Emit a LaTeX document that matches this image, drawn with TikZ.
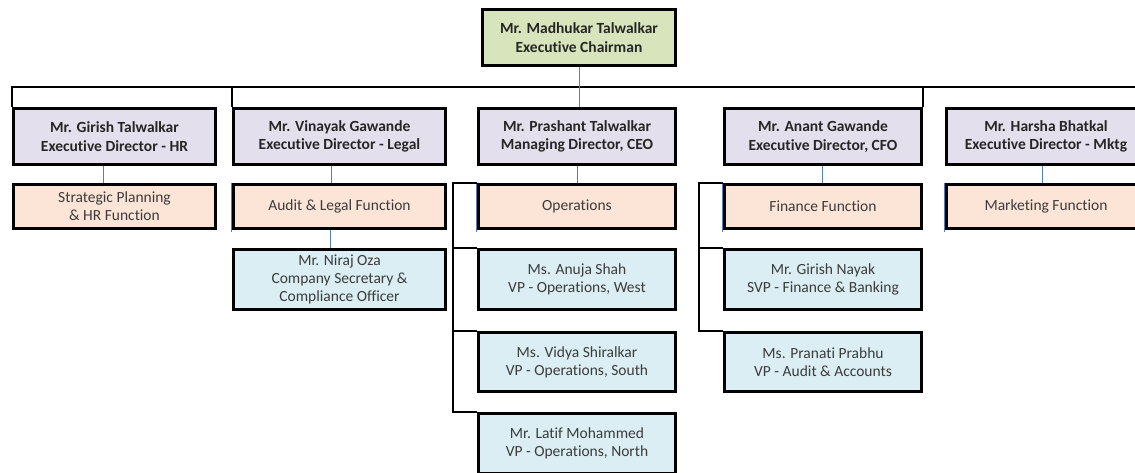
\documentclass[tikz,border=0pt]{standalone}
\usepackage{fontspec}
\setmainfont{Carlito}[Ligatures=NoCommon]
\usepackage{tikz}

\definecolor{chairgreen}{RGB}{216,228,188}
\definecolor{dirlilac}{RGB}{228,223,236}
\definecolor{fnpeach}{RGB}{252,228,214}
\definecolor{staffblue}{RGB}{218,238,243}
\definecolor{linkblue}{RGB}{79,129,189}
\definecolor{txtgray}{RGB}{60,60,60}

\begin{document}
\begin{tikzpicture}[x=1pt, y=-1pt,
		box/.style={draw=black, line width=3.6pt, align=center, inner sep=0pt, text=txtgray, font=\fontsize{15.5}{18}\selectfont},
		head/.style={box, text=black!85, font=\fontsize{15.5}{18.5}\selectfont\bfseries},
		chairbox/.style={head, fill=chairgreen},
		dirbox/.style={head, fill=dirlilac},
		fnbox/.style={box, fill=fnpeach},
		staffbox/.style={box, fill=staffblue},
		busline/.style={line width=1.8pt, black},
		elbow/.style={line width=1.8pt, black},
		link/.style={line width=0.9pt, linkblue}]
			\useasboundingbox (0,0) rectangle (1135,472);
			\clip (0,0) rectangle (1135,472);
			% Top
			\node[chairbox, minimum width=193, minimum height=56] (chair) at (579,37.5) {Mr. Madhukar Talwalkar\\Executive Chairman};
			% Directors
			\node[dirbox, minimum width=202, minimum height=56] (girish) at (114.5,136.5) {Mr. Girish Talwalkar\\Executive Director - HR};
			\node[dirbox, minimum width=212, minimum height=56] (vinayak) at (339.5,136.5) {Mr. Vinayak Gawande\\Executive Director - Legal};
			\node[dirbox, minimum width=197, minimum height=56] (prashant) at (577,136.5) {Mr. Prashant Talwalkar\\Managing Director, CEO};
			\node[dirbox, minimum width=197, minimum height=56] (anant) at (823,136.5) {Mr. Anant Gawande\\Executive Director, CFO};
			\node[dirbox, minimum width=199, minimum height=56] (harsha) at (1046,136.5) {Mr. Harsha Bhatkal\\Executive Director - Mktg};
			% Functions
			\node[fnbox, minimum width=202, minimum height=44] (hrfn) at (114.5,206.5) {Strategic Planning\\\& HR Function};
			\node[fnbox, minimum width=212, minimum height=44] (legalfn) at (339.5,206.5) {Audit \& Legal Function};
			\node[fnbox, minimum width=197, minimum height=44] (ops) at (577,206.5) {Operations};
			\node[fnbox, minimum width=197, minimum height=44] (finfn) at (823,206.5) {Finance Function};
			\node[fnbox, minimum width=199, minimum height=44] (mktfn) at (1046,206.5) {Marketing Function};
			% Staff
			\node[staffbox, minimum width=212, minimum height=60] (niraj) at (339.5,279.5) {Mr. Niraj Oza\\Company Secretary \&\\Compliance Officer};
			\node[staffbox, minimum width=197, minimum height=60] (anuja) at (577,279.5) {Ms. Anuja Shah\\VP - Operations, West};
			\node[staffbox, minimum width=197, minimum height=59] (vidya) at (577,362) {Ms. Vidya Shiralkar\\VP - Operations, South};
			\node[staffbox, minimum width=197, minimum height=60] (latif) at (577,443.5) {Mr. Latif Mohammed\\VP - Operations, North};
			\node[staffbox, minimum width=197, minimum height=60] (nayak) at (823,279.5) {Mr. Girish Nayak\\SVP - Finance \& Banking};
			\node[staffbox, minimum width=197, minimum height=59] (pranati) at (823,362) {Ms. Pranati Prabhu\\VP - Audit \& Accounts};
			% Bus to the directors
			\coordinate (busend) at (1140,87);
			\draw[busline] (girish.north west) |- (busend);
			\draw[busline] (vinayak.north west) -- (vinayak.north west |- busend);
			\draw[busline] (anant.north east) -- (anant.north east |- busend);
			% Blue links
			\draw[link] (chair.south) -- (chair.south |- prashant.north);
			\draw[link] ([xshift=-11.5pt]girish.south) -- ([xshift=-11.5pt]hrfn.north);
			\draw[link] ([xshift=-8.5pt]vinayak.south) -- ([xshift=-8.5pt]legalfn.north);
			\draw[link] ([xshift=-9.5pt]legalfn.south) -- ([xshift=-9.5pt]niraj.north);
			\draw[link] (prashant.south) -- (ops.north);
			\draw[link] ([xshift=-1pt]anant.south) -- ([xshift=-1pt]finfn.north);
			\draw[link] ([xshift=-4pt]harsha.south) -- ([xshift=-4pt]mktfn.north);
			% Left edge leftovers
			\draw[link] ([xshift=-0.4pt]legalfn.north west) -- ([xshift=-0.4pt,yshift=-2pt]legalfn.south west);
			\draw[link] ([xshift=-0.4pt]ops.north west) -- ([xshift=-0.4pt,yshift=-2pt]ops.south west);
			\draw[link] ([xshift=-0.4pt]finfn.north west) -- ([xshift=-0.4pt,yshift=-2pt]finfn.south west);
			\draw[link] ([xshift=-0.4pt]mktfn.north west) -- ([xshift=-0.4pt,yshift=-2pt]mktfn.south west);
			% Elbows under Operations
			\draw[elbow] (ops.north west) -- ++(-24,0) |- (anuja.north west);
			\draw[elbow] (ops.north west) -- ++(-24,0) |- (vidya.north west);
			\draw[elbow] (ops.north west) -- ++(-24,0) |- (latif.north west);
			% Elbows under Finance
			\draw[elbow] (finfn.north west) -- ++(-24,0) |- (nayak.north west);
			\draw[elbow] (finfn.north west) -- ++(-24,0) |- (pranati.north west);
\end{tikzpicture}
\end{document}
